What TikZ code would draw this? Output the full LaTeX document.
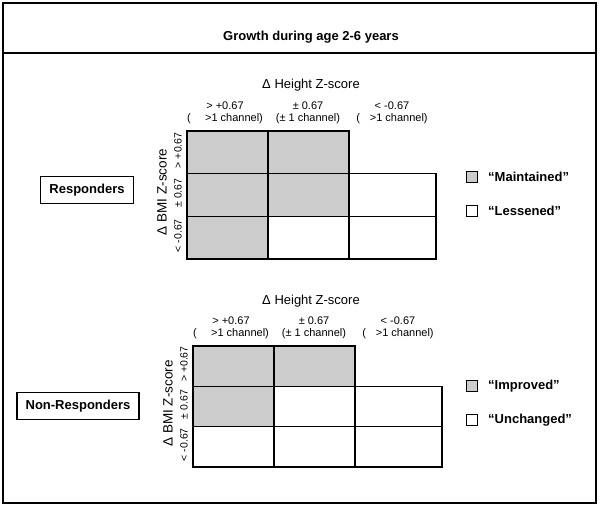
\documentclass[tikz,border=0pt]{standalone}
\usepackage{fontspec}
\setmainfont{Liberation Sans}
\definecolor{cellgray}{gray}{0.8}
\begin{document}
\begin{tikzpicture}[x=1pt,y=-1pt,declare function={cw=81;},
	cell/.style={draw,line width=1.5pt},
	big/.style={font=\fontsize{13}{15}\selectfont},
	colhead/.style={font=\fontsize{11}{12}\selectfont,align=center,inner sep=0pt},
	rowval/.style={font=\fontsize{10.5}{12}\selectfont,rotate=90,inner sep=0pt},
	grpbox/.style={draw,line width=1.8pt,font=\fontsize{13}{15}\selectfont\bfseries,minimum height=27pt,inner xsep=9pt},
	keybox/.style={draw,line width=0.6pt,minimum width=11pt,minimum height=11pt,inner sep=0pt},
	keytxt/.style={font=\fontsize{13}{15}\selectfont\bfseries,anchor=west,inner sep=0pt}]
	\useasboundingbox (0,0) rectangle (600,506);
	\draw[line width=1.4pt] (3,3) rectangle (596,503) (3,53)--(596,53);
	\node[font=\fontsize{13}{15}\selectfont\bfseries] (title) at (311,37) {Growth during age 2-6 years};
	% responders
	\begin{scope}[shift={(187,131)},declare function={rh=42.7;}]
		\foreach \c/\r/\f in {0/0/cellgray,1/0/cellgray,0/1/cellgray,1/1/cellgray,2/1/white,0/2/cellgray,1/2/white,2/2/white}
		\draw[cell,fill=\f] ({\c*cw},{\r*rh}) rectangle +({cw+6*(\c==2)},rh);
		\node[big] (rheight) at (124,-46) {Δ Height Z-score};
		\node[colhead] (rc1) at (38,-18) {> +0.67\\(\hspace{1.3em}>1 channel)};
		\node[colhead] (rc2) at (121,-18) {± 0.67\\(± 1 channel)};
		\node[colhead] (rc3) at (205,-18) {< -0.67\\(\hspace{0.9em}>1 channel)};
		\node[big,font=\fontsize{13.5}{15}\selectfont,rotate=90] (rbmi) at (-25,{1.5*rh-3}) {Δ BMI Z-score};
		\foreach \r/\t in {0/> +0.67,1/± 0.67,2/< -0.67}
		\node[rowval] (rr\r) at (-9,{(\r+0.5)*rh-2}) {\t};
	\end{scope}
	\node[grpbox] (resp) at (87,190) {Responders};
	\node[keybox,fill=cellgray] (kmaint) at (472,177) {};
	\node[keytxt] (tmaint) at (488,177) {“Maintained”};
	\node[keybox] (kless) at (472,211) {};
	\node[keytxt] (tless) at (488,211) {“Lessened”};
	% non-responders
	\begin{scope}[shift={(193,346)},declare function={rh=40.3;}]
		\foreach \c/\r/\f in {0/0/cellgray,1/0/cellgray,0/1/cellgray,1/1/white,2/1/white,0/2/white,1/2/white,2/2/white}
		\draw[cell,fill=\f] ({\c*cw},{\r*rh}) rectangle +({cw+6*(\c==2)},rh);
		\node[big] (nheight) at (118,-45) {Δ Height Z-score};
		\node[colhead] (nc1) at (38,-18) {> +0.67\\(\hspace{1.3em}>1 channel)};
		\node[colhead] (nc2) at (121,-18) {± 0.67\\(± 1 channel)};
		\node[colhead] (nc3) at (205,-18) {< -0.67\\(\hspace{0.9em}>1 channel)};
		\node[big,font=\fontsize{13.5}{15}\selectfont,rotate=90] (nbmi) at (-25,{1.5*rh-3}) {Δ BMI Z-score};
		\foreach \r/\t in {0/> +0.67,1/± 0.67,2/< -0.67}
		\node[rowval] (nr\r) at (-9,{(\r+0.5)*rh-2}) {\t};
	\end{scope}
	\node[grpbox] (nonresp) at (78,406) {Non-Responders};
	\node[keybox,fill=cellgray] (kimpr) at (472,386) {};
	\node[keytxt] (timpr) at (488,386) {“Improved”};
	\node[keybox] (kunch) at (472,420) {};
	\node[keytxt] (tunch) at (488,420) {“Unchanged”};
\end{tikzpicture}
\end{document}
